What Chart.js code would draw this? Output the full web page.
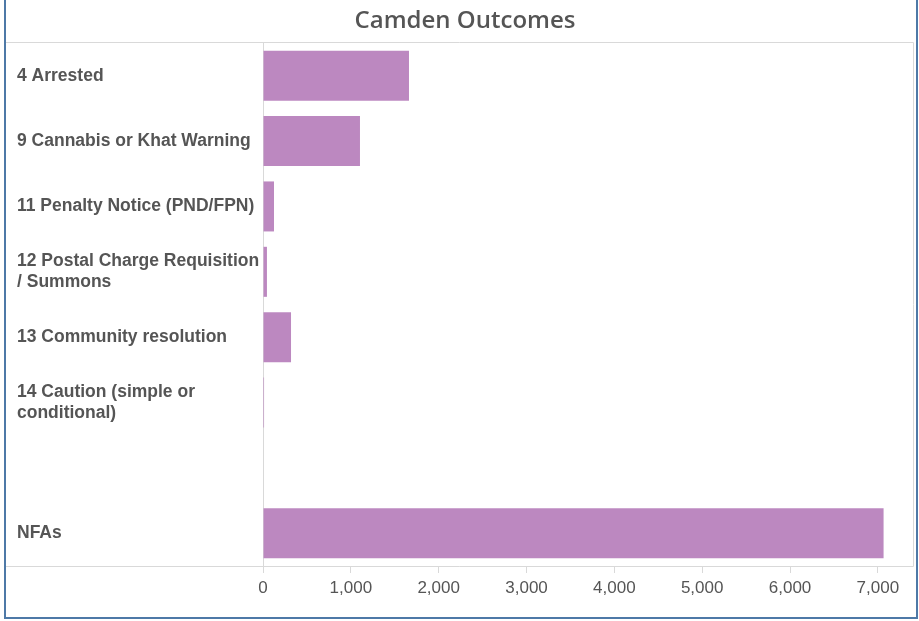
<!DOCTYPE html>
<html>
<head>
<meta charset="utf-8">
<title>Camden Outcomes</title>
<script src="https://cdn.jsdelivr.net/npm/chart.js@4"></script>
<style>
  html, body { margin: 0; padding: 0; background: #fff; }
  #wrap { position: relative; width: 919px; height: 621px; }
</style>
</head>
<body>
<div id="wrap"><canvas id="outcomesChart" width="919" height="621"></canvas></div>
<script>
// Data
const categories = [
  "4 Arrested",
  "9 Cannabis or Khat Warning",
  "11 Penalty Notice (PND/FPN)",
  ["12 Postal Charge Requisition", "/ Summons"],
  "13 Community resolution",
  ["14 Caution (simple or", "conditional)"],
  "",
  "NFAs",
];
const outcomeCounts = [1662, 1104, 125, 45, 319, 12, null, 7065];
const xTickValues = [0, 1000, 2000, 3000, 4000, 5000, 6000, 7000];

// Colours
const BAR_COLOR = "#bc88c0";
const TEXT_COLOR = "#555555";
const FRAME_COLOR = "#d9d9d9";
const BORDER_COLOR = "#4e79a7";

const fmtNumber = (n) => n.toLocaleString("en-US");

// Light frame round the pane plus the blue outer border
const framePlugin = {
  id: "frame",
  afterDraw(chart) {
    const { ctx, chartArea: a } = chart;
    ctx.save();
    ctx.strokeStyle = FRAME_COLOR;
    ctx.lineWidth = 1;
    ctx.beginPath();
    ctx.moveTo(6, a.top - 0.5);
    ctx.lineTo(a.right + 0.5, a.top - 0.5);
    ctx.lineTo(a.right + 0.5, a.bottom + 0.5);
    ctx.lineTo(6, a.bottom + 0.5);
    ctx.stroke();
    ctx.strokeStyle = BORDER_COLOR;
    ctx.lineWidth = 2;
    ctx.strokeRect(5, -2, 912, 620);
    ctx.restore();
  },
};

const ctx = document.getElementById("outcomesChart").getContext("2d");
new Chart(ctx, {
  type: "bar",
  data: {
    labels: categories,
    datasets: [
      {
        label: "Outcomes",
        data: outcomeCounts,
        backgroundColor: BAR_COLOR,
        borderWidth: 0,
        barPercentage: 0.765,
        categoryPercentage: 1,
      },
    ],
  },
  options: {
    indexAxis: "y",
    responsive: false,
    animation: false,
    layout: { padding: { left: 17, right: 6, top: 0, bottom: 0 } },
    plugins: {
      legend: { display: false },
      tooltip: { enabled: false },
      title: {
        display: true,
        text: "Camden Outcomes",
        color: TEXT_COLOR,
        font: { family: "'Open Sans', sans-serif", size: 24, weight: "600", lineHeight: 1.2 },
        padding: { top: 7, bottom: 7.2 },
      },
    },
    scales: {
      x: {
        type: "linear",
        min: 0,
        max: 7400,
        afterBuildTicks: (scale) => {
          scale.ticks = xTickValues.map((v) => ({ value: v }));
        },
        afterFit: (scale) => {
          scale.height = 55;
        },
        grid: { drawOnChartArea: false, drawTicks: true, tickLength: 7, color: FRAME_COLOR },
        border: { display: false },
        ticks: {
          color: TEXT_COLOR,
          padding: 5,
          font: { family: "'Liberation Sans', Arial, sans-serif", size: 17 },
          callback: (val) => fmtNumber(val),
        },
      },
      y: {
        afterFit: (scale) => {
          scale.width = 246;
        },
        grid: { display: false },
        border: { display: true, color: FRAME_COLOR, width: 1 },
        ticks: {
          autoSkip: false,
          crossAlign: "far",
          padding: 0,
          color: TEXT_COLOR,
          font: { family: "'Liberation Sans', Arial, sans-serif", size: 17.5, weight: "bold", lineHeight: 1.2 },
        },
      },
    },
  },
  plugins: [framePlugin],
});
</script>
</body>
</html>
